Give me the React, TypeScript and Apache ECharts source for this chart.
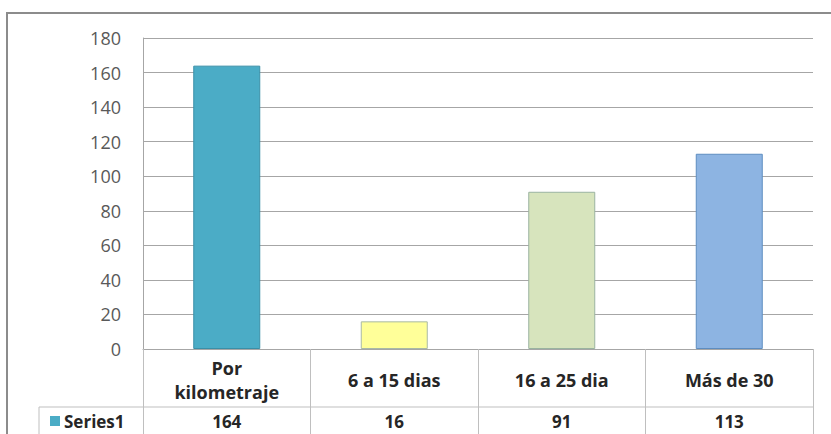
import React, { useEffect, useRef } from "react";
import * as echarts from "echarts";

const categories = ["Por\nkilometraje", "6 a 15 dias", "16 a 25 dia", "Más de 30"];
const values = [164, 16, 91, 113];
const seriesName = "Series1";
const barColors = ["#4BACC6", "#FFFF99", "#D7E4BD", "#8DB4E2"];
const barBorders = ["#3A8FA8", "#A9B9A6", "#9AB3A0", "#5E8DC0"];
const yMin = 0;
const yMax = 180;
const yStep = 20;

const FONT = "Open Sans";

export default function App() {
  const ref = useRef<HTMLDivElement>(null);
  useEffect(() => {
    if (!ref.current) return;
    const chart = echarts.init(ref.current, undefined, { renderer: "svg" });
    chart.setOption({
      animation: false,
      backgroundColor: "#ffffff",
      textStyle: { fontFamily: FONT },
      grid: { left: 143, right: 18, top: 38, bottom: 85 },
      xAxis: [
        {
          type: "category",
          data: categories,
          axisLine: { show: true, lineStyle: { color: "#a6a6a6", width: 1 } },
          axisTick: { show: true, length: 86, lineStyle: { color: "#bfbfbf" } },
          axisLabel: {
            interval: 0,
            margin: 31,
            verticalAlign: "middle",
            fontFamily: FONT,
            fontWeight: "bold",
            fontSize: 18,
            lineHeight: 24,
            color: "#262626",
          },
        },
        {
          type: "category",
          position: "bottom",
          data: values.map(String),
          axisLine: { show: false },
          axisTick: { show: false },
          axisLabel: {
            interval: 0,
            margin: 72,
            verticalAlign: "middle",
            fontFamily: FONT,
            fontWeight: "bold",
            fontSize: 17,
            lineHeight: 17,
            color: "#262626",
          },
        },
      ],
      yAxis: {
        type: "value",
        min: yMin,
        max: yMax,
        interval: yStep,
        axisLine: { show: true, lineStyle: { color: "#a6a6a6" } },
        axisTick: { show: false },
        splitLine: { lineStyle: { color: "#a6a6a6" } },
        axisLabel: { margin: 22, fontSize: 18, color: "#595959", fontFamily: FONT },
      },
      series: [
        {
          type: "bar",
          name: seriesName,
          barWidth: "40%",
          data: values.map((v, i) => ({
            value: v,
            itemStyle: { color: barColors[i], borderColor: barBorders[i], borderWidth: 1 },
          })),
        },
      ],
      graphic: [
        {
          type: "rect",
          silent: true,
          shape: { x: 7, y: 13, width: 1000, height: 1000 },
          style: { fill: "none", stroke: "#8c8c8c", lineWidth: 2 },
        },
        {
          type: "line",
          silent: true,
          shape: { x1: 39, y1: 407, x2: 813, y2: 407 },
          style: { stroke: "#bfbfbf", lineWidth: 1 },
        },
        {
          type: "line",
          silent: true,
          shape: { x1: 39, y1: 407, x2: 39, y2: 440 },
          style: { stroke: "#bfbfbf", lineWidth: 1 },
        },
        {
          type: "rect",
          silent: true,
          shape: { x: 50, y: 416, width: 10, height: 10 },
          style: { fill: barColors[0] },
        },
        {
          type: "text",
          silent: true,
          x: 64,
          y: 421,
          style: {
            text: seriesName,
            font: `bold 17px "${FONT}"`,
            lineHeight: 17,
            fill: "#262626",
            verticalAlign: "middle",
            align: "left",
          },
        },
      ],
    });
    return () => chart.dispose();
  }, []);
  return (
    <div
      ref={ref}
      style={{ position: "fixed", left: 0, top: 0, width: 831, height: 434, background: "#fff" }}
    />
  );
}
